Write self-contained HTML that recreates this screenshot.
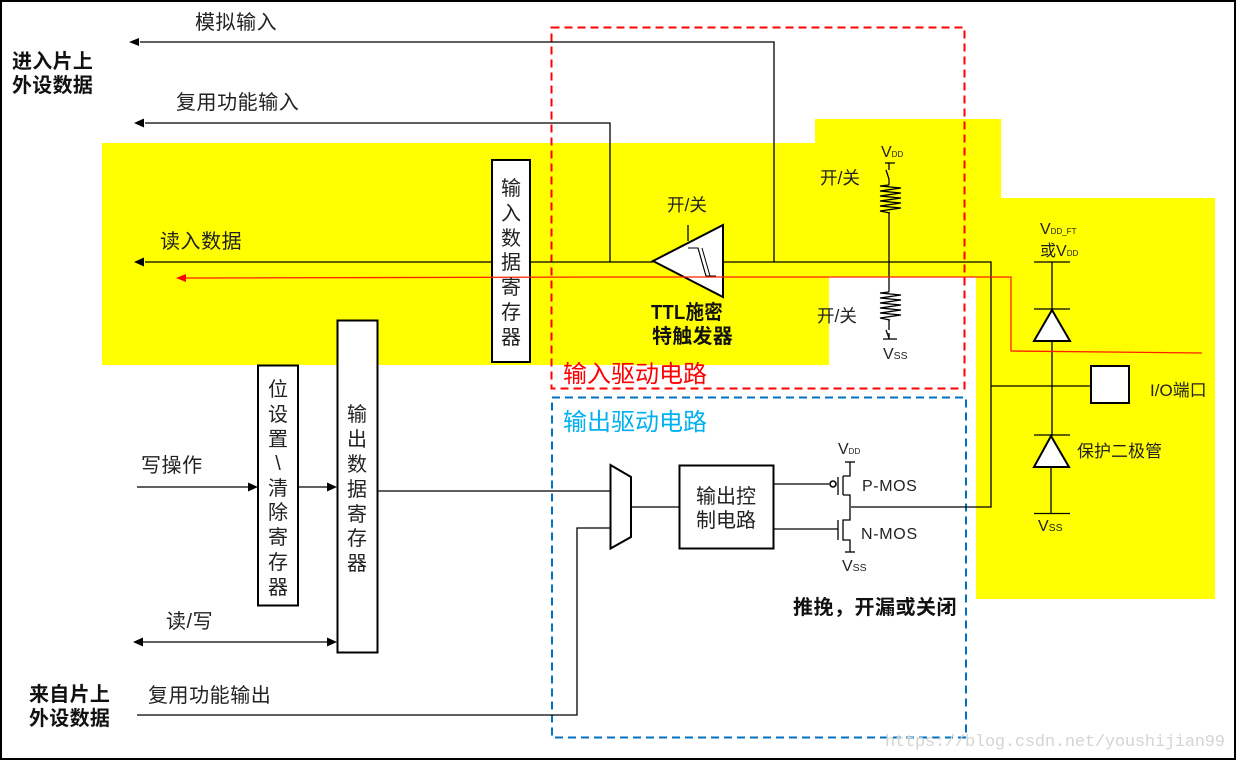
<!DOCTYPE html>
<html><head><meta charset="utf-8">
<style>
html,body{margin:0;padding:0;background:#fff}
svg{display:block}
text{font-family:"Liberation Sans","Noto Sans CJK SC",sans-serif;fill:#222;font-size:20px}
.l{letter-spacing:.55px}
.b{font-weight:bold;fill:#111;letter-spacing:.3px}
.s{font-size:17.5px}
.v{font-size:16px}
.t{font-size:8px}
.u{font-size:10.5px}
</style></head><body>
<svg width="1236" height="760" viewBox="0 0 1236 760" xmlns="http://www.w3.org/2000/svg">
<rect width="1236" height="760" fill="#fff"/>
<!-- yellow -->
<g fill="#ffff00">
<rect x="102" y="143" width="727" height="222"/>
<rect x="815" y="119" width="186" height="158"/>
<rect x="976" y="198" width="239" height="401"/>
</g>
<!-- frame -->
<rect x="1" y="1" width="1234" height="758" fill="none" stroke="#000" stroke-width="2"/>
<!-- dashed -->
<rect x="551.5" y="27.5" width="413" height="361" fill="none" stroke="#ff0000" stroke-width="2" stroke-dasharray="8 5"/>
<rect x="552" y="397.5" width="414" height="340" fill="none" stroke="#0070c0" stroke-width="2" stroke-dasharray="8 5"/>

<g fill="none" stroke="#000" stroke-width="1.3">
<!-- top lines -->
<polyline points="140,42 774,42 774,262"/>
<polyline points="145,123 610,123 610,262"/>
<line x1="145" y1="262" x2="491" y2="262"/>
<line x1="531" y1="262" x2="653" y2="262"/>
<polyline points="723,262 991,262 991,507 851,507"/>
<line x1="991" y1="386" x2="1091" y2="386"/>
<!-- pull-ups -->
<line x1="889" y1="163" x2="889" y2="170"/>
<line x1="885" y1="163" x2="895" y2="163"/>
<line x1="886" y1="170" x2="889" y2="179"/>
<line x1="889" y1="179" x2="889" y2="185"/>
<polyline points="889,185 880,186 901,188 880,191 901,193 880,196 901,198 880,201 901,203 880,206 901,208 880,211 890,213"/>
<line x1="889" y1="213" x2="889" y2="292"/>
<polyline points="889,292 880,293 901,295 880,298 901,300 880,303 901,305 880,308 901,310 880,313 901,315 880,318 890,320"/>
<line x1="889" y1="320" x2="889" y2="330"/>
<line x1="886" y1="330" x2="889" y2="338"/>
<line x1="883" y1="339" x2="897" y2="339"/>
<line x1="889" y1="333" x2="889" y2="339"/>
<!-- schmitt control -->
<line x1="688" y1="225" x2="688" y2="241"/>
<!-- diode lines -->
<line x1="1052" y1="262" x2="1052" y2="309"/>
<line x1="1052" y1="342" x2="1052" y2="436"/>
<line x1="1051" y1="468" x2="1051" y2="513"/>
<line x1="1034" y1="262" x2="1070" y2="262"/>
<line x1="1034" y1="309" x2="1070" y2="309"/>
<line x1="1034" y1="435" x2="1070" y2="435"/>
<line x1="1034" y1="513.5" x2="1070" y2="513.5"/>
<!-- output side -->
<line x1="137" y1="487" x2="250" y2="487"/>
<line x1="298" y1="487" x2="330" y2="487"/>
<line x1="140" y1="642" x2="330" y2="642"/>
<line x1="378" y1="491" x2="610" y2="491"/>
<polyline points="137,715 577,715 577,528 610,528"/>
<line x1="631" y1="507" x2="679" y2="507"/>
<line x1="774" y1="484" x2="829" y2="484"/>
<line x1="774" y1="529" x2="838" y2="529"/>
<!-- MOS -->
<line x1="838" y1="477" x2="838" y2="495"/>
<polyline points="843,476 850,476 850,462"/>
<line x1="845" y1="462" x2="855" y2="462"/>
<line x1="843" y1="476" x2="843" y2="495"/>
<polyline points="843,495 850,495 850,520 843,520 843,540 850,540 850,552"/>
<line x1="838" y1="520" x2="838" y2="540"/>
<line x1="845" y1="552" x2="855" y2="552"/>
</g>
<circle cx="833" cy="484" r="3" fill="#fff" stroke="#000" stroke-width="1.6"/>

<!-- boxes -->
<g fill="#fff" stroke="#000" stroke-width="2">
<rect x="492" y="160" width="38" height="202"/>
<rect x="258" y="365.500" width="40" height="240"/>
<rect x="337.500" y="320.500" width="40" height="332"/>
<rect x="679.500" y="465.500" width="94" height="83"/>
<rect x="1091" y="366" width="38" height="37"/>
<polygon points="610.500,465 631,477 631,537 610.500,548.500"/>
</g>
<g fill="#fff" stroke="#000" stroke-width="2">
<polygon points="653,261 723,225 723,297"/>
<polygon points="1052,310 1070,341 1034,341"/>
<polygon points="1051,436 1069,467 1034,467"/>
</g>
<g fill="none" stroke="#000" stroke-width="1">
<polyline points="688,248 698,248 706,276"/>
<polyline points="698,248 706,276 716,276"/>
<line x1="702" y1="248" x2="710" y2="276"/>
</g>

<!-- red -->
<g fill="none" stroke="#ff2000" stroke-width="1.3">
<polyline points="185,278 620,277 1011,277 1011,351 1202,353"/>
</g>
<polygon points="176,278 186,274 186,282" fill="#ff0000"/>

<!-- arrowheads -->
<g fill="#000">
<polygon points="129,42 139,38 139,46"/>
<polygon points="134,123 144,118.500 144,127.500"/>
<polygon points="134,262 144,257.500 144,266.500"/>
<polygon points="258,487 248,482.500 248,491.500"/>
<polygon points="337,487 327,482.500 327,491.500"/>
<polygon points="133,642 143,637.500 143,646.500"/>
<polygon points="337,642 327,637.500 327,646.500"/>
</g>

<!-- labels -->
<text x="195" y="29" class="l">模拟输入</text>
<text x="176" y="109" class="l">复用功能输入</text>
<text x="160" y="248" class="l">读入数据</text>
<text x="12" y="68" class="b">进入片上</text>
<text x="12" y="92" class="b">外设数据</text>
<text x="29" y="701" class="b">来自片上</text>
<text x="29" y="725" class="b">外设数据</text>
<text x="141" y="472" class="l">写操作</text>
<text x="166" y="628" class="l">读/写</text>
<text x="148" y="702" class="l">复用功能输出</text>

<g text-anchor="middle">
<text x="511" y="195">输</text><text x="511" y="220">入</text><text x="511" y="245">数</text><text x="511" y="269">据</text><text x="511" y="294">寄</text><text x="511" y="319">存</text><text x="511" y="344">器</text>
<text x="278" y="396">位</text><text x="278" y="421">设</text><text x="278" y="446">置</text><text x="278" y="470">\</text><text x="278" y="495">清</text><text x="278" y="519">除</text><text x="278" y="544">寄</text><text x="278" y="569">存</text><text x="278" y="594">器</text>
<text x="357" y="421">输</text><text x="357" y="446">出</text><text x="357" y="471">数</text><text x="357" y="496">据</text><text x="357" y="521">寄</text><text x="357" y="545">存</text><text x="357" y="570">器</text>
</g>

<text x="563" y="382" style="font-size:24px;fill:#ff0000">输入驱动电路</text>
<text x="563" y="430" style="font-size:24px;fill:#00b0f0">输出驱动电路</text>

<text x="667" y="211" class="s">开/关</text>
<text x="820" y="184" class="s">开/关</text>
<text x="817" y="322" class="s">开/关</text>
<text x="651" y="319" class="b" textLength="72" lengthAdjust="spacingAndGlyphs">TTL施密</text>
<text x="652" y="343" class="b" textLength="81" lengthAdjust="spacingAndGlyphs">特触发器</text>

<text x="881" y="157" class="v">V<tspan class="t">DD</tspan></text>
<text x="883" y="359" class="v">V<tspan class="u">SS</tspan></text>
<text x="1040" y="234" class="v">V<tspan class="t">DD_FT</tspan></text>
<text x="1040" y="256" class="v">或V<tspan class="t">DD</tspan></text>
<text x="1038" y="531" class="v">V<tspan class="u">SS</tspan></text>
<text x="1150" y="396" style="font-size:17px">I/O端口</text>
<text x="1077" y="457" style="font-size:17px">保护二极管</text>

<text x="838" y="454" class="v">V<tspan class="t">DD</tspan></text>
<text x="842" y="571" class="v">V<tspan class="u">SS</tspan></text>
<text x="862" y="491" class="v" style="letter-spacing:.6px">P-MOS</text>
<text x="861" y="539" class="v" style="letter-spacing:.7px">N-MOS</text>
<text x="696" y="503">输出控</text>
<text x="696" y="527">制电路</text>
<text x="793" y="614" class="b" style="letter-spacing:.5px">推挽，开漏或关闭</text>

<text x="885" y="746" textLength="340" style="font-family:'Liberation Mono','Liberation Serif',monospace;font-size:17px;fill:#d4d4d0">https://blog.csdn.net/youshijian99</text>
</svg>
</body></html>
